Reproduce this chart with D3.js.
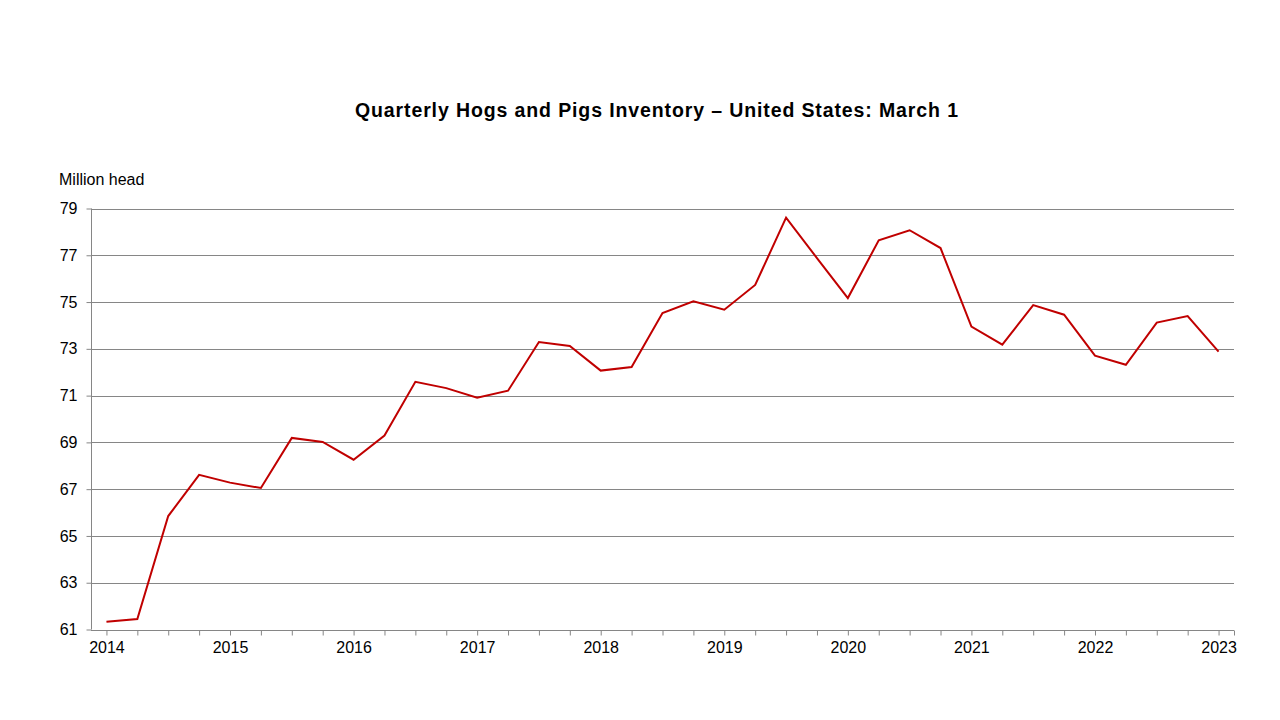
<!DOCTYPE html>
<html>
<head>
<meta charset="utf-8">
<script src="https://cdn.jsdelivr.net/npm/d3@7"></script>
<style>
  html, body { margin: 0; padding: 0; background: #fff; }
  svg { display: block; font-family: "Liberation Sans", Arial, sans-serif; }
</style>
</head>
<body>
<svg id="chart" width="1280" height="720"></svg>
<script>
const title = "Quarterly Hogs and Pigs Inventory \u2013 United States: March 1";
const yAxisTitle = "Million head";
const years = ["2014","2015","2016","2017","2018","2019","2020","2021","2022","2023"];
const quarters = ["Q1","Q2","Q3","Q4"];
const values = [
  61.33, 61.45, 65.85, 67.61,
  67.28, 67.05, 69.19, 69.02,
  68.26, 69.29, 71.59, 71.32,
  70.91, 71.21, 73.29, 73.12,
  72.07, 72.22, 74.53, 75.03,
  74.67, 75.73, 78.61, 76.88,
  75.17, 77.64, 78.07, 77.31,
  73.95, 73.18, 74.87, 74.46,
  72.71, 72.32, 74.12, 74.40,
  72.88
];
const yTicks = [61, 63, 65, 67, 69, 71, 73, 75, 77, 79];

(function () {
const svg = d3.select("#chart");
const mLeft = 91, mRight = 1234, mTop = 208.5, mBottom = 629.5;

const x = d3.scaleLinear().domain([-0.5, values.length - 0.5]).range([mLeft, mRight]);
const y = d3.scaleLinear().domain([61, 79]).range([mBottom, mTop]);

svg.append("text")
  .attr("x", 355).attr("y", 117)
  .attr("font-size", 19.5).attr("font-weight", "bold")
  .attr("fill", "#000")
  .attr("textLength", 603).attr("lengthAdjust", "spacing")
  .text(title);

svg.append("text")
  .attr("x", 59).attr("y", 185)
  .attr("font-size", 16).attr("fill", "#000")
  .text(yAxisTitle);

svg.append("g")
  .selectAll("line")
  .data(yTicks.filter(d => d !== 61))
  .join("line")
  .attr("x1", mLeft).attr("x2", mRight)
  .attr("y1", d => Math.round(y(d)) + 0.5).attr("y2", d => Math.round(y(d)) + 0.5)
  .attr("stroke", "#868686").attr("stroke-width", 1);

const yAxis = d3.axisLeft(y).tickValues(yTicks).tickSize(5).tickPadding(9).tickFormat(d3.format("d"));
const gy = svg.append("g").attr("transform", `translate(${mLeft + 0.5},0)`).call(yAxis);
gy.select(".domain").attr("stroke", "#868686").attr("d", `M0,${mTop}V${mBottom}`);
gy.selectAll(".tick line").attr("stroke", "#868686");
gy.selectAll(".tick text").attr("font-size", 16).attr("fill", "#000")
  .attr("font-family", "'Liberation Sans', Arial, sans-serif");

const idx = d3.range(values.length);
const xAxis = d3.axisBottom(x)
  .tickValues(idx.concat([values.length - 0.5]))
  .tickSize(5).tickPadding(6)
  .tickFormat(i => (Number.isInteger(i) && i % 4 === 0) ? years[i / 4] : "");
const gx = svg.append("g").attr("transform", `translate(0,${Math.round(mBottom) + 0.5})`).call(xAxis);
gx.select(".domain").attr("stroke", "#868686").attr("d", `M${mLeft},0H${mRight}`);
gx.selectAll(".tick line").attr("stroke", "#868686");
gx.selectAll(".tick text").attr("font-size", 16).attr("fill", "#000")
  .attr("font-family", "'Liberation Sans', Arial, sans-serif");

const line = d3.line().x((d, i) => x(i)).y(d => y(d));
svg.append("path")
  .datum(values)
  .attr("d", line)
  .attr("fill", "none")
  .attr("stroke", "#C00000")
  .attr("stroke-width", 2)
  .attr("stroke-linejoin", "miter");
})();
</script>
</body>
</html>
